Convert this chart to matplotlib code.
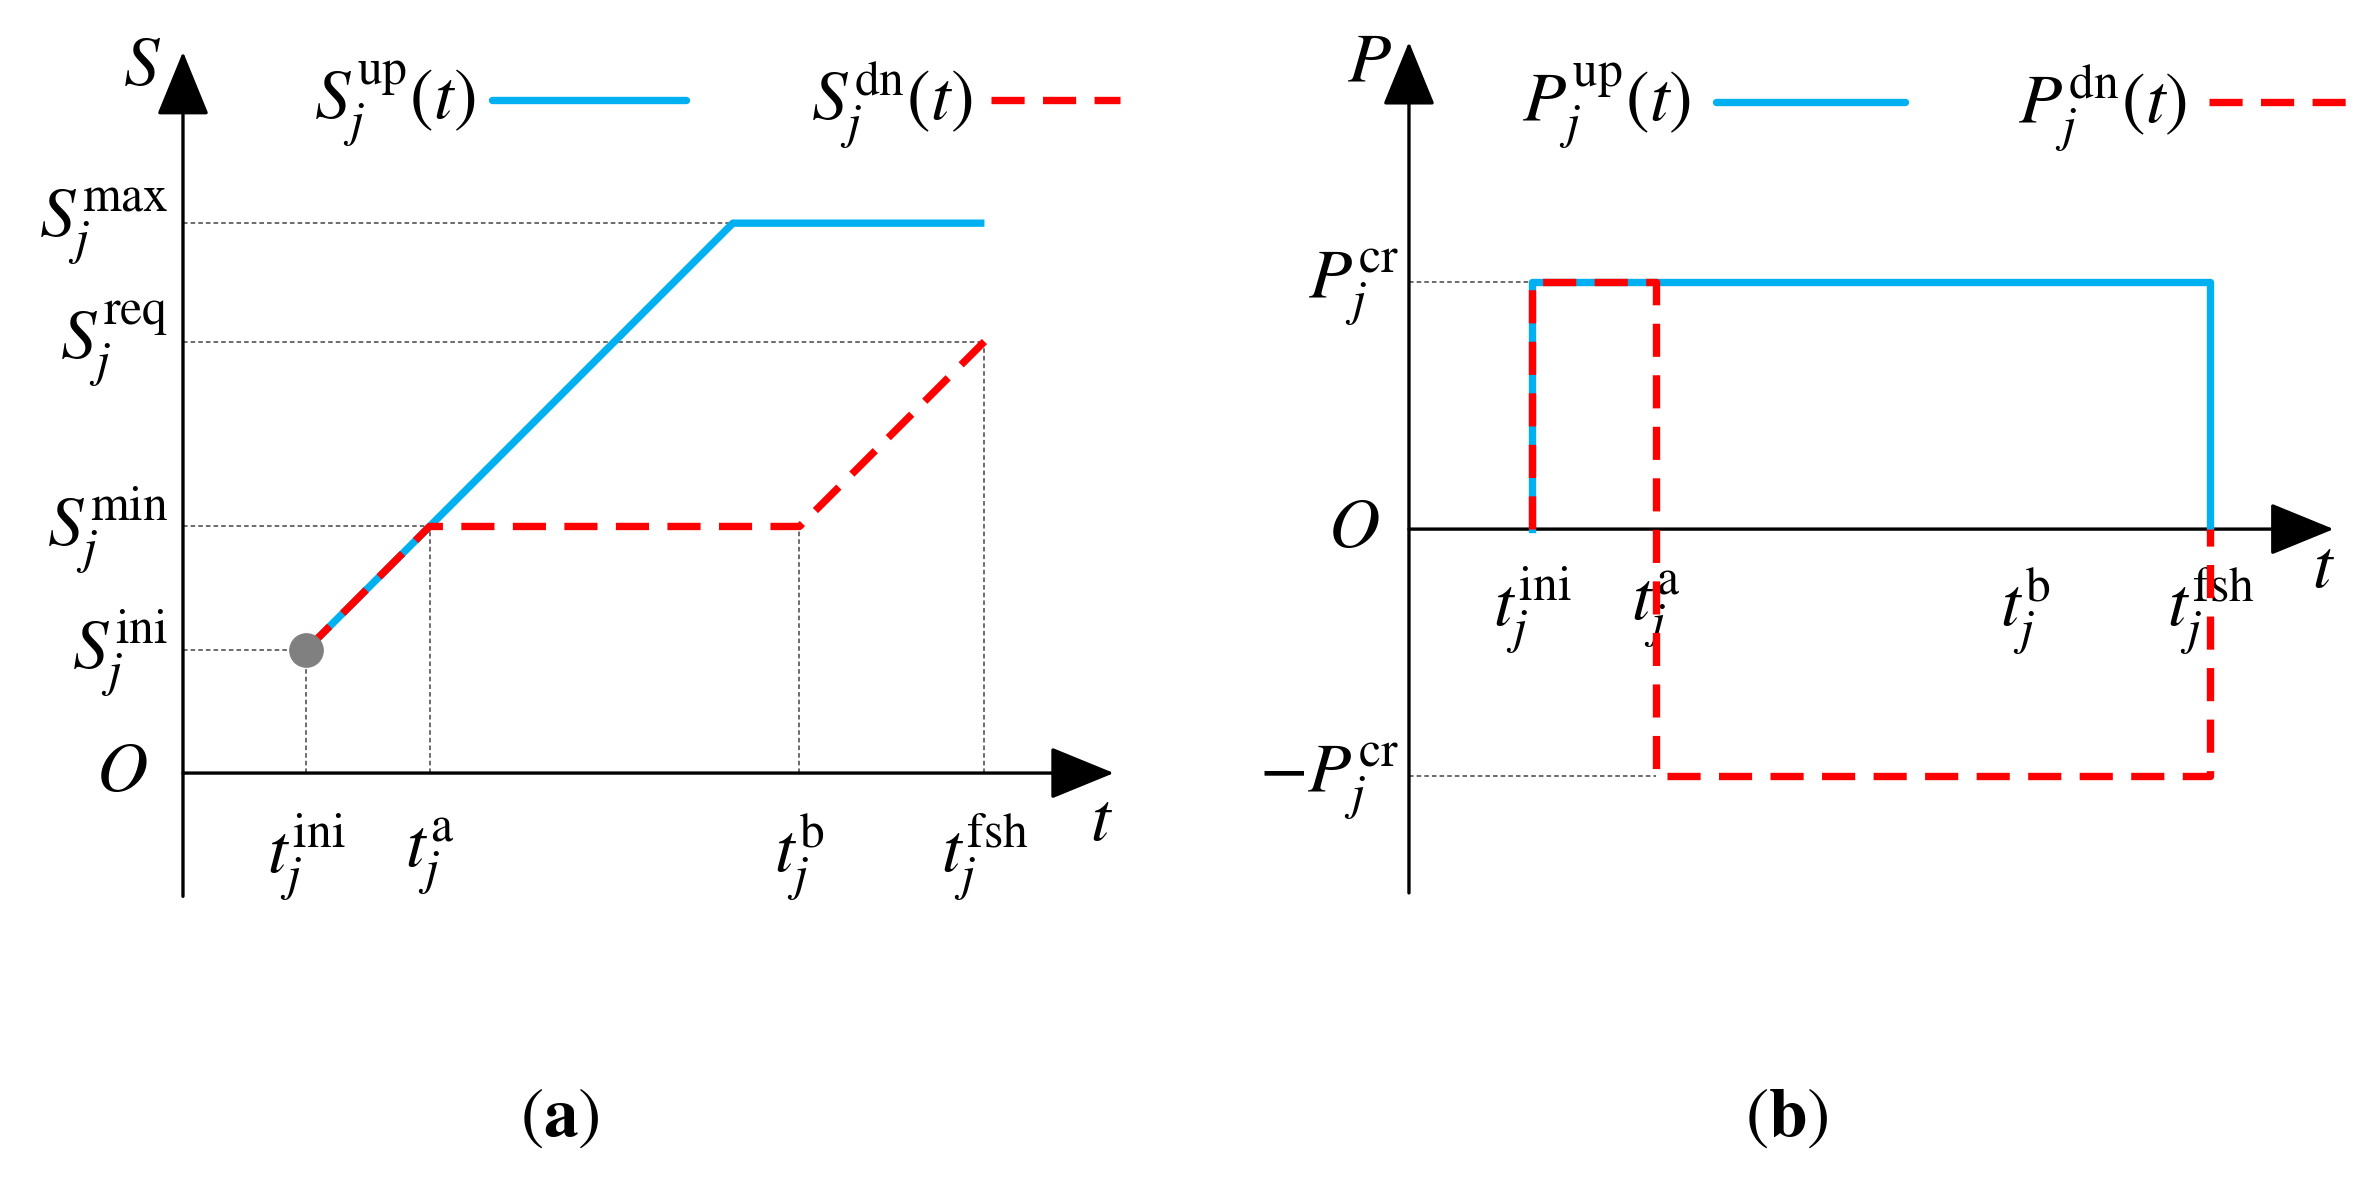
import matplotlib
matplotlib.use('Agg')
import matplotlib.pyplot as plt

plt.rcParams['mathtext.fontset'] = 'stix'
plt.rcParams['font.family'] = ['Liberation Serif', 'DejaVu Serif']

# time instants (same for both panels)
t_ini, t_a, t_b, t_fsh = 1.0, 2.0, 5.0, 6.5
t_full = 4.46          # time when S^up reaches S^max

# energy levels, panel (a)
S_ini, S_min, S_req, S_max = 1.0, 2.0, 3.5, 4.46

# power level, panel (b)
P_cr = 2.0

# curves
S_up_t = [t_ini, t_full, t_fsh]
S_up_v = [S_ini, S_max, S_max]
S_dn_t = [t_ini, t_a, t_b, t_fsh]
S_dn_v = [S_ini, S_min, S_min, S_req]

P_up_t = [t_ini, t_ini, t_fsh, t_fsh]
P_up_v = [0, P_cr, P_cr, 0]
P_dn_t = [t_ini, t_ini, t_a, t_a, t_fsh, t_fsh]
P_dn_v = [0, P_cr, P_cr, -P_cr, -P_cr, 0]

BLUE = '#00B0F0'
RED = '#FF0000'
FS = 51
LW = 5.3

fig = plt.figure(figsize=(23.58, 11.84), dpi=100)
ax1 = fig.add_axes([0, 0, 1180 / 2358, 1])
ax2 = fig.add_axes([1180 / 2358, 0, 1178 / 2358, 1])
ax1.set_xlim(-1.484, 8.086)
ax1.set_ylim(-3.333, 6.27)
ax2.set_xlim(-1.857, 7.697)
ax2.set_ylim(-5.31, 4.29)
for ax in (ax1, ax2):
    ax.axis('off')


def axis_arrow(ax, start, end):
    ax.annotate('', xy=end, xytext=start,
                arrowprops=dict(arrowstyle='-|>,head_length=1.1,head_width=0.45',
                                lw=2.4, color='black', mutation_scale=37,
                                shrinkA=0, shrinkB=0))


def guide(ax, xs, ys):
    ax.plot(xs, ys, color='#444444', lw=1.1, ls=(0, (3, 2)), zorder=1)


def txt(ax, x, y, s, **kw):
    kw.setdefault('fontsize', FS)
    kw.setdefault('ha', 'center')
    kw.setdefault('va', 'center')
    ax.text(x, y, s, **kw)


red_dash = (0, (4.5, 2.5))

# ---------------- panel (a) ----------------
axis_arrow(ax1, (0, -1.0), (0, 5.85))
axis_arrow(ax1, (0, 0), (7.55, 0))

for lvl, xend in [(S_ini, t_ini), (S_min, t_a), (S_req, t_fsh), (S_max, t_full)]:
    guide(ax1, [0, xend], [lvl, lvl])
for tx, top in [(t_ini, S_ini), (t_a, S_min), (t_b, S_min), (t_fsh, S_req)]:
    guide(ax1, [tx, tx], [0, top])

ax1.plot(S_up_t, S_up_v, color=BLUE, lw=LW, solid_capstyle='butt', zorder=3)
ax1.plot(S_dn_t, S_dn_v, color=RED, lw=LW, ls=red_dash, zorder=4)
ax1.plot([t_ini], [S_ini], 'o', color='#808080', ms=24, zorder=5)

txt(ax1, -0.33, 5.72, r'$S$')
txt(ax1, -0.5, 0.0, r'$O$')
txt(ax1, 7.45, -0.4, r'$t$')
for lvl, name in [(S_max, 'max'), (S_req, 'req'), (S_min, 'min'), (S_ini, 'ini')]:
    txt(ax1, -0.12, lvl - 0.03, r'$S_j^{\mathrm{%s}}$' % name, ha='right')
for tx, name in [(t_ini, 'ini'), (t_a, 'a'), (t_b, 'b'), (t_fsh, 'fsh')]:
    txt(ax1, tx, -0.68, r'$t_j^{\mathrm{%s}}$' % name)

# legend (a)
txt(ax1, 2.37, 5.42, r'$S_j^{\mathrm{up}}(t)$', ha='right')
ax1.plot([2.51, 4.08], [5.46, 5.46], color=BLUE, lw=LW, solid_capstyle='round')
txt(ax1, 6.40, 5.42, r'$S_j^{\mathrm{dn}}(t)$', ha='right')
ax1.plot([6.55, 7.6], [5.46, 5.46], color=RED, lw=LW, ls=red_dash)

# ---------------- panel (b) ----------------
axis_arrow(ax2, (0, -2.95), (0, 3.95))
axis_arrow(ax2, (0, 0), (7.5, 0))

guide(ax2, [0, t_ini], [P_cr, P_cr])
guide(ax2, [0, t_a], [-P_cr, -P_cr])

ax2.plot(P_up_t, P_up_v, color=BLUE, lw=LW, zorder=3)
ax2.plot(P_dn_t, P_dn_v, color=RED, lw=LW, ls=red_dash, zorder=4)

txt(ax2, -0.32, 3.78, r'$P$')
txt(ax2, -0.45, 0.0, r'$O$')
txt(ax2, 7.42, -0.33, r'$t$')
txt(ax2, -0.08, P_cr - 0.05, r'$P_j^{\mathrm{cr}}$', ha='right')
txt(ax2, -0.08, -P_cr - 0.05, r'$-P_j^{\mathrm{cr}}$', ha='right')
for tx, name in [(t_ini, 'ini'), (t_a, 'a'), (t_b, 'b'), (t_fsh, 'fsh')]:
    txt(ax2, tx, -0.66, r'$t_j^{\mathrm{%s}}$' % name)

# legend (b)
txt(ax2, 2.29, 3.42, r'$P_j^{\mathrm{up}}(t)$', ha='right')
ax2.plot([2.49, 4.02], [3.46, 3.46], color=BLUE, lw=LW, solid_capstyle='round')
txt(ax2, 6.31, 3.42, r'$P_j^{\mathrm{dn}}(t)$', ha='right')
ax2.plot([6.49, 7.6], [3.46, 3.46], color=RED, lw=LW, ls=red_dash)

# captions
fig.text(560 / 2358, 1 - 1119 / 1184, r'$(\mathbf{a})$', fontsize=50,
         ha='center', va='center')
fig.text(1787 / 2358, 1 - 1119 / 1184, r'$(\mathbf{b})$', fontsize=50,
         ha='center', va='center')

fig.savefig('out.png', dpi=100)
